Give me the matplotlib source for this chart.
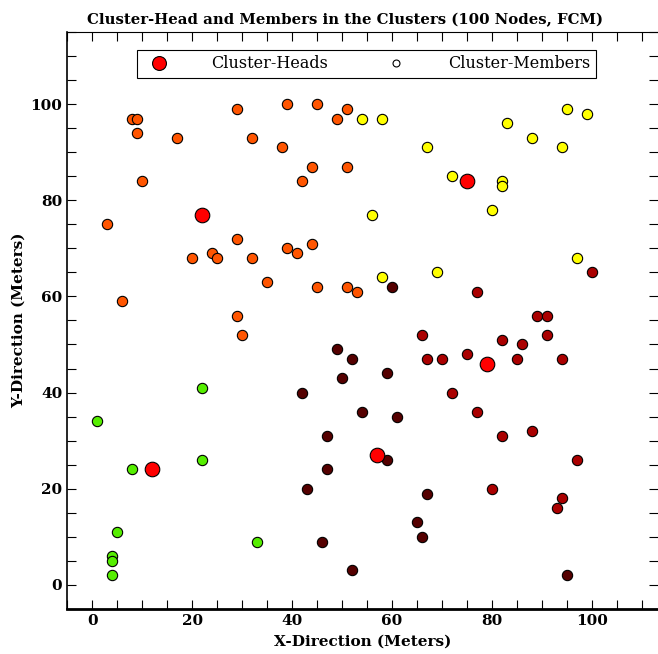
import numpy as np
import matplotlib
matplotlib.use("Agg")
import matplotlib.pyplot as plt
from matplotlib.lines import Line2D
from matplotlib.ticker import MultipleLocator

# cluster heads
head_x = [12, 22, 57, 75, 79]
head_y = [24, 77, 27, 84, 46]

# cluster members (one list pair per cluster)
orange_x = [3, 6, 8, 9, 9, 10, 17, 20, 24, 25, 29, 29, 29, 30, 32, 32, 35, 38, 39, 39,
            41, 42, 44, 44, 45, 45, 49, 51, 51, 51, 53]
orange_y = [75, 59, 97, 97, 94, 84, 93, 68, 69, 68, 99, 72, 56, 52, 93, 68, 63, 91, 100, 70,
            69, 84, 87, 71, 100, 62, 97, 99, 87, 62, 61]

yellow_x = [54, 58, 95, 99, 83, 88, 94, 67, 72, 82, 82, 80, 56, 97, 69, 58]
yellow_y = [97, 97, 99, 98, 96, 93, 91, 91, 85, 84, 83, 78, 77, 68, 65, 64]

green_x = [1, 22, 22, 8, 5, 4, 4, 4, 33]
green_y = [34, 41, 26, 24, 11, 6, 5, 2, 9]

dark_x = [49, 52, 50, 42, 54, 47, 61, 59, 60, 47, 43, 46, 52, 59, 67, 65, 66, 95]
dark_y = [49, 47, 43, 40, 36, 31, 35, 44, 62, 24, 20, 9, 3, 26, 19, 13, 10, 2]

red_x = [100, 77, 89, 91, 91, 66, 82, 86, 67, 70, 75, 85, 94, 72, 77, 82, 88, 97, 80, 94, 93]
red_y = [65, 61, 56, 56, 52, 52, 51, 50, 47, 47, 48, 47, 47, 40, 36, 31, 32, 26, 20, 18, 16]

clusters = [
    (orange_x, orange_y, "#ff5500"),
    (yellow_x, yellow_y, "#ffff00"),
    (green_x, green_y, "#55ee00"),
    (dark_x, dark_y, "#550000"),
    (red_x, red_y, "#aa0000"),
]

plt.rcParams['font.family'] = ['DejaVu Serif']

fig = plt.figure(figsize=(6.58, 6.54), dpi=100)
ax = fig.add_axes([0.102, 0.069, 0.898, 0.882])

for cx, cy, col in clusters:
    ax.scatter(cx, cy, s=55, c=col, edgecolors="black", linewidths=0.8, zorder=3)

ax.scatter(head_x, head_y, s=110, c="#ff0000", edgecolors="black", linewidths=0.8, zorder=4)

ax.set_xlim(-5, 113.2)
ax.set_ylim(-5, 115)
ax.xaxis.set_major_locator(MultipleLocator(20))
ax.xaxis.set_minor_locator(MultipleLocator(5))
ax.yaxis.set_major_locator(MultipleLocator(20))
ax.yaxis.set_minor_locator(MultipleLocator(5))
ax.tick_params(which="both", direction="in", top=True, right=True, length=6.5, width=0.8)
for lab in ax.get_xticklabels() + ax.get_yticklabels():
    lab.set_fontweight("bold")
    lab.set_fontsize(11)

ax.spines["left"].set_linewidth(1.2)
ax.spines["bottom"].set_linewidth(2)
ax.spines["top"].set_linewidth(0.8)
ax.spines["right"].set_visible(False)

ax.set_xlabel("X-Direction (Meters)", fontweight="bold", fontsize=11, labelpad=5)
ax.set_ylabel("Y-Direction (Meters)", fontweight="bold", fontsize=11, labelpad=3)
ax.set_title("Cluster-Head and Members in the Clusters (100 Nodes, FCM)",
             fontweight="bold", fontsize=10.7, pad=6, x=0.47)

handles = [
    Line2D([], [], marker="o", linestyle="none", markersize=10,
           markerfacecolor="#ff0000", markeredgecolor="black", markeredgewidth=0.8),
    Line2D([], [], marker="o", linestyle="none", markersize=5,
           markerfacecolor="white", markeredgecolor="black", markeredgewidth=0.8),
]
leg = ax.legend(handles, ["Cluster-Heads", "Cluster-Members"], loc="upper center",
                bbox_to_anchor=(0.507, 0.983), ncol=2, fontsize=11.5, fancybox=False,
                framealpha=1, edgecolor="black", columnspacing=3.2, handletextpad=2.3,
                borderpad=0.35)
leg.get_frame().set_linewidth(0.8)

fig.savefig("out.png", dpi=100)
